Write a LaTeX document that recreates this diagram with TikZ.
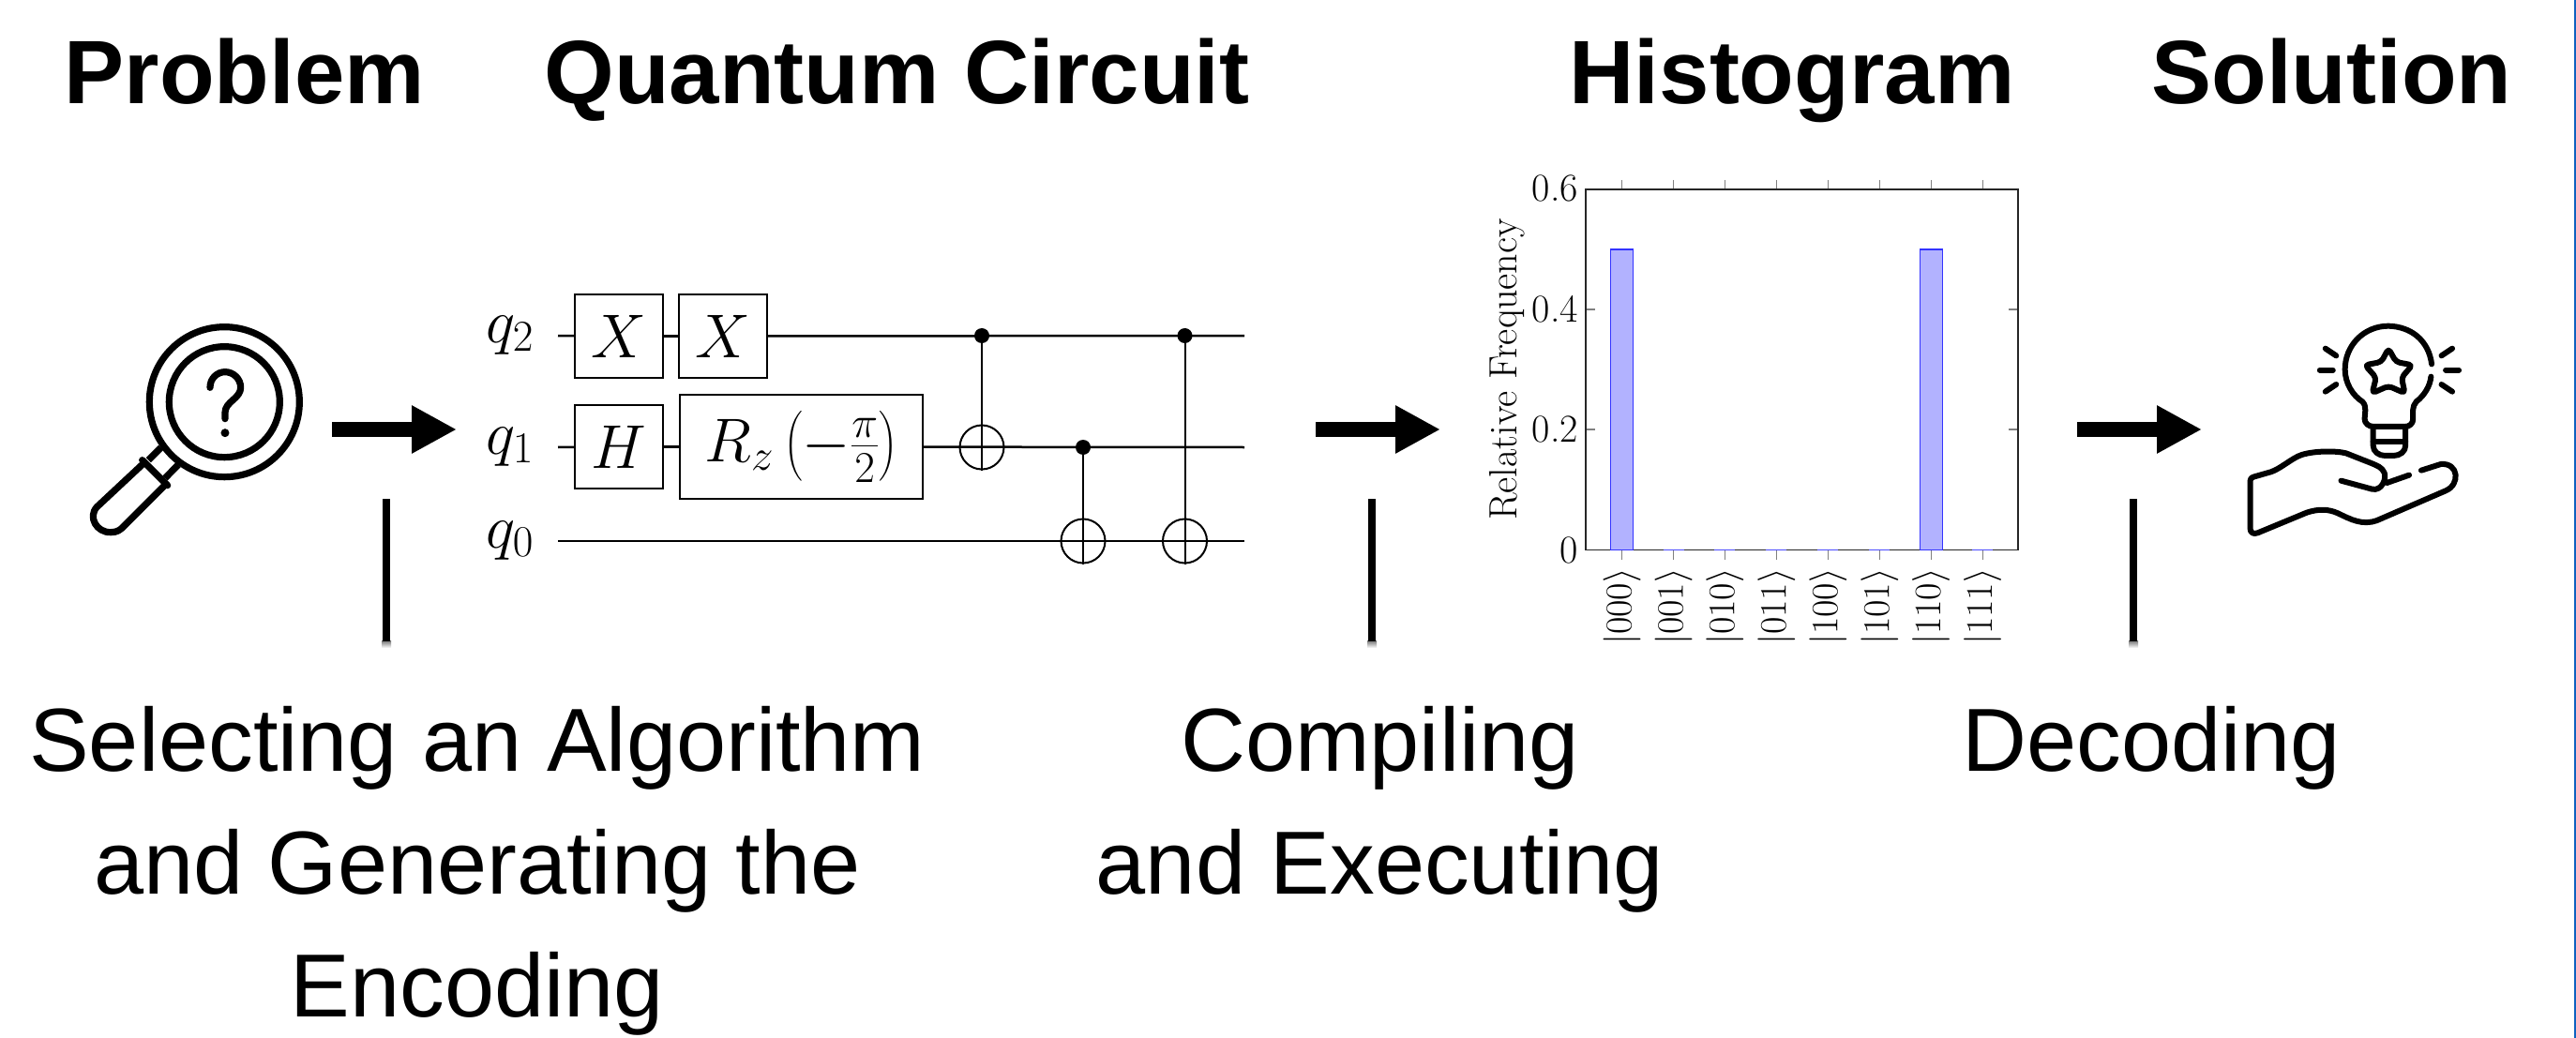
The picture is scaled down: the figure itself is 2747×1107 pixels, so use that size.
\RequirePackage{fix-cm}
\documentclass[tikz,border=0pt]{standalone}
\usepackage{amsmath}
\usepackage{fontspec}
\usetikzlibrary{arrows.meta}
\newfontfamily\arialf{Liberation Sans}
\definecolor{edgeblue}{RGB}{15,98,192}
\newcommand{\fsz}[1]{\fontsize{#1}{#1}\selectfont}
\DeclareMathSizes{66}{66}{47}{36}
\DeclareMathSizes{40}{40}{28}{22}
\tikzset{
  heading/.style={anchor=base,inner sep=0pt,font=\arialf\bfseries\fsz{96}},
  caption/.style={anchor=base,inner sep=0pt,align=center,font=\arialf\fontsize{95.5}{131}\selectfont},
  bigarrow/.style={line width=16pt,-{Triangle[length=48pt,width=48pt]}},
  vbar/.style={line width=8pt},
  wire/.style={line width=2.5pt},
  gate/.style={draw,line width=2pt,inner sep=0pt,font=\fsz{66}},
  qlabel/.style={anchor=base west,inner sep=0pt,font=\fsz{66}},
  ctrl/.style={circle,fill=black,inner sep=0pt,minimum size=16pt},
  target/.style={circle,draw,line width=2pt,inner sep=0pt,minimum size=47pt},
  vlink/.style={line width=2pt},
  axisbox/.style={draw=black!85,line width=1.3pt},
  tick/.style={draw=black!50,line width=1.3pt},
  bar/.style={draw=blue!80,fill=blue!30,line width=1.2pt},
  zerobar/.style={draw=blue!70,line width=1.2pt},
  ylab/.style={anchor=east,inner sep=0pt,font=\fsz{42}},
  xlab/.style={anchor=east,rotate=90,inner sep=0pt,font=\fsz{40}},
  icon/.style={line width=7.2pt,line cap=round,line join=round},
}
\begin{document}
\begin{tikzpicture}[x=1pt,y=-1pt]
\useasboundingbox (0,0) rectangle (2747,1107);
\fill[edgeblue] (2744.5,0) rectangle (2747,1107);

% headings
\node[heading] (hProblem) at (261,111) {Problem};
\node[heading] (hCircuit) at (956.5,111) {Quantum Circuit};
\node[heading] (hHist) at (1911,111) {Histogram};
\node[heading] (hSol) at (2486.5,111) {Solution};

% captions
\node[caption] (cap1) at (509,1084) {Selecting an Algorithm\\and Generating the\\Encoding};
\node[caption] (cap2) at (1471.5,953) {Compiling\\and Executing};
\node[caption] (cap3) at (2294,822) {Decoding};

% block arrows
\coordinate (a1s) at (354,458); \coordinate (a1e) at (487,458);
\coordinate (a2s) at (1403,458); \coordinate (a2e) at (1536,458);
\coordinate (a3s) at (2215,458); \coordinate (a3e) at (2348,458);
\draw[bigarrow] (a1s) -- (a1e);
\draw[bigarrow] (a2s) -- (a2e);
\draw[bigarrow] (a3s) -- (a3e);

% vertical bars
\foreach \n/\x in {1/412,2/1463,3/2275}{
  \shade[top color=black!55,bottom color=white] (\x-5,683) rectangle (\x+5,691);
  \coordinate (b\n t) at (\x,532); \coordinate (b\n b) at (\x,683.5);
  \draw[vbar] (b\n t) -- (b\n b);
}

% circuit
\node[qlabel] (q2) at (518,365) {$q_2$};
\node[qlabel] (q1) at (518,484) {$q_1$};
\node[qlabel] (q0) at (518,584) {$q_0$};
\coordinate (w2s) at (595,358); \coordinate (w2e) at (1327,358);
\coordinate (w1s) at (595,477); \coordinate (w1e) at (1327,477);
\coordinate (w0s) at (595,577); \coordinate (w0e) at (1327,577);
\node[gate,minimum width=94pt,minimum height=89pt] (gx1) at (660,358.5) {$X$};
\node[gate,minimum width=94pt,minimum height=89pt] (gx2) at (771,358.5) {$X$};
\node[gate,minimum width=94pt,minimum height=89pt] (gh) at (660,476.5) {$H$};
\node[gate,minimum width=259pt,minimum height=111pt] (grz) at (854.5,476.5) {$R_z\left(-\frac{\pi}{2}\right)$};
\draw[wire] (w2s) -- (gx1); \draw[wire] (gx1) -- (gx2); \draw[wire] (gx2) -- (w2e);
\draw[wire] (w1s) -- (gh); \draw[wire] (gh) -- (grz); \draw[wire] (grz) -- (w1e);
\draw[wire] (w0s) -- (w0e);
\node[ctrl] (c1) at (1047,358) {};
\node[target] (t1) at (1047,477) {};
\node[ctrl] (c2) at (1155,477) {};
\node[target] (t2) at (1155,577) {};
\node[ctrl] (c3) at (1263.5,358) {};
\node[target] (t3) at (1263.5,577) {};
\draw[vlink] (c1) -- (t1.south);
\draw[vlink] (c2) -- (t2.south);
\draw[vlink] (c3) -- (t3.south);

% histogram
\foreach \x in {1729.6,1784.5,1839.4,1894.4,1949.3,2004.3,2059.2,2114.2}{
  \draw[tick] (\x,192) -- (\x,202);
  \draw[tick] (\x,586.5) -- (\x,596.5);
}
\foreach \y in {330,458}{
  \draw[tick] (1691,\y) -- (1701,\y);
  \draw[tick] (2142,\y) -- (2152,\y);
}
\draw[axisbox] (1691,202) rectangle (2152,586.5);
\draw[bar] (1717.6,266) rectangle (1741.6,586.5);
\draw[bar] (2047.2,266) rectangle (2071.2,586.5);
\foreach \x in {1784.5,1839.4,1894.4,1949.3,2004.3,2114.2}{
  \draw[zerobar] (\x-11,586.5) -- (\x+11,586.5);
}
\node[ylab] (y6) at (1683,201) {0.6};
\node[ylab] (y4) at (1683,330) {0.4};
\node[ylab] (y2) at (1683,458) {0.2};
\node[ylab] (y0) at (1683,586.5) {0};
\node[rotate=90,inner sep=0pt,font=\fsz{42}] (ytitle) at (1607,394) {Relative Frequency};
\node[xlab] (k0) at (1729.6,606) {$|000\rangle$};
\node[xlab] (k1) at (1784.5,606) {$|001\rangle$};
\node[xlab] (k2) at (1839.4,606) {$|010\rangle$};
\node[xlab] (k3) at (1894.4,606) {$|011\rangle$};
\node[xlab] (k4) at (1949.3,606) {$|100\rangle$};
\node[xlab] (k5) at (2004.3,606) {$|101\rangle$};
\node[xlab] (k6) at (2059.2,606) {$|110\rangle$};
\node[xlab] (k7) at (2114.2,606) {$|111\rangle$};

% magnifier icon
\begin{scope}[shift={(50,300)},x=0.33333pt,y=-0.33333pt]
  \draw[icon] (568,386) circle[radius=80pt];
  \draw[icon] (568,386) circle[radius=59pt];
  \draw[icon] (522,340) .. controls (522,310) and (545,290) .. (570,290)
     .. controls (597,290) and (620,312) .. (620,340)
     .. controls (620,375) and (570,385) .. (570,420) -- (570,440);
  \fill (570,485) circle[radius=4.5pt];
  \draw[icon,line cap=butt] (365,532) -- (325,572);
  \draw[icon,line cap=butt] (420,587) -- (378,630);
  \draw[icon] (305,572) -- (386,653);
  \draw[icon] (312,580) -- (160,722) .. controls (130,755) and (160,805) .. (205,803)
     .. controls (225,803) and (235,795) .. (245,785) -- (380,650);
\end{scope}

% bulb and hand icon
\begin{scope}[shift={(2200,320)},x=0.34878pt,y=-0.33333pt,icon/.append style={line width=6pt}]
  \draw[icon] (1127,205) .. controls (1118,130) and (1065,85) .. (995,83)
     .. controls (920,83) and (862,145) .. (862,222)
     .. controls (862,265) and (885,305) .. (915,325)
     .. controls (930,340) and (922,365) .. (922,380)
     .. controls (922,395) and (935,405) .. (950,405) -- (1045,405)
     .. controls (1060,405) and (1070,395) .. (1070,380)
     .. controls (1070,365) and (1066,340) .. (1080,325)
     .. controls (1105,305) and (1122,275) .. (1125,245);
  \draw[icon] (948,405) -- (948,465) .. controls (948,485) and (965,498) .. (985,498)
     -- (1010,498) .. controls (1030,498) and (1047,485) .. (1047,465) -- (1047,405);
  \draw[icon] (948,452) -- (1047,452);
  % star
  \draw[icon,rounded corners=4pt] (995,155) -- (1018,198) -- (1068,208) -- (1035,248)
     -- (1045,298) -- (995,275) -- (945,298) -- (957,248) -- (923,208) -- (973,198) -- cycle;
  % rays
  \draw[icon] (802,155) -- (835,178);
  \draw[icon] (785,224) -- (825,224);
  \draw[icon] (802,293) -- (835,270);
  \draw[icon] (1190,155) -- (1157,178);
  \draw[icon] (1170,224) -- (1210,224);
  \draw[icon] (1190,293) -- (1157,270);
  % hand
  \draw[icon] (850,578) -- (945,605) .. controls (975,612) and (990,570) .. (982,552)
     .. controls (975,535) and (960,530) .. (945,523) -- (865,490)
     .. controls (835,482) and (770,482) .. (730,495) .. controls (700,505) and (665,540) .. (635,550)
     -- (585,565) .. controls (573,568) and (572,575) .. (572,585) -- (572,730)
     .. controls (572,745) and (582,750) .. (595,745) -- (745,680)
     .. controls (780,668) and (810,668) .. (840,682) .. controls (880,702) and (915,722) .. (960,705)
     -- (1170,610) .. controls (1215,590) and (1210,520) .. (1155,525) -- (1095,545);
  \draw[icon] (990,585) -- (1058,560);
\end{scope}
\end{tikzpicture}
\end{document}
